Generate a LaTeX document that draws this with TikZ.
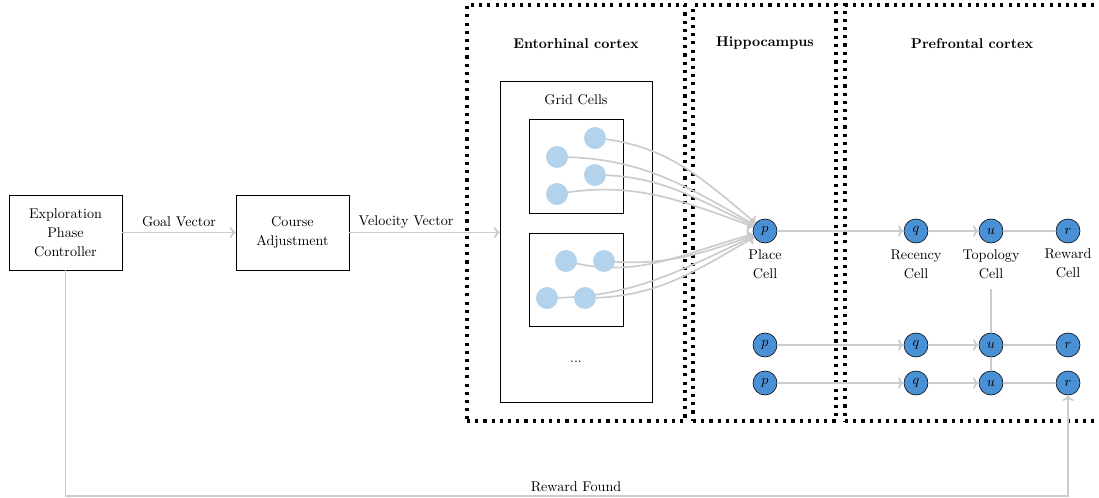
\documentclass[tikz,border=0pt]{standalone}
\usetikzlibrary{arrows.meta,fit,positioning}
\definecolor{linkgray}{RGB}{204,204,204}
\definecolor{cellblue}{RGB}{74,144,212}
\definecolor{gridblue}{RGB}{179,210,235}
\begin{document}
\begin{tikzpicture}[x=0.707pt,y=-0.707pt,
  every node/.style={font=\fontsize{10}{13.5}\selectfont},
  block/.style={draw, align=center, inner sep=0, minimum width=80pt, minimum height=53pt},
  region/.style={draw, line width=2.2pt, dash pattern=on 2.2pt off 3.6pt, inner sep=0},
  frame/.style={draw, inner sep=0},
  title/.style={font=\fontsize{10}{13.5}\selectfont\bfseries},
  gridcell/.style={circle, fill=gridblue, inner sep=0, minimum size=15.5pt},
  cell/.style={circle, draw, fill=cellblue, inner sep=0, minimum size=17pt},
  link/.style={draw=linkgray, line width=1.2pt},
  flow/.style={link, -{To[length=4pt,width=8pt]}},
  caption/.style={align=center, inner sep=1pt}
]
\clip (0,0) rectangle (1099,498);
\useasboundingbox (0,0) rectangle (1099,498);

% brain regions
\node[region, fit={(467,5) (685,421)}] (ec) {};
\node[region, fit={(693,5) (836,421)}] (hc) {};
\node[region, fit={(845,5) (1110,421)}] (pfc) {};
\node[title] (ectitle) at (576,44) {Entorhinal cortex};
\node[title] (hctitle) at (765,43) {Hippocampus};
\node[title] (pfctitle) at (972,44) {Prefrontal cortex};

% control blocks
\node[block] (ctrl) at (65.5,232.5) {Exploration\\Phase\\Controller};
\node[block] (course) at (292.5,232.5) {Course\\Adjustment};

% grid cell modules
\node[frame, fit={(500,81) (652,402)}] (grid) {};
\node (gridlabel) at (576,100) {Grid Cells};
\node[frame, fit={(529,119) (623,213)}] (modA) {};
\node[frame, fit={(529,233) (623,326)}] (modB) {};
\node (more) at (576,362) {...};

% place / recency / topology / reward cells
\foreach \row/\y in {1/231,2/345,3/383}{
  \node[cell] (p\row) at (765,\y) {$p$};
  \node[cell] (q\row) at (916,\y) {$q$};
  \node[cell] (u\row) at (991,\y) {$u$};
  \node[cell] (r\row) at (1068,\y) {$r$};
}
\node[caption, below=3pt of p1] (plabel) {Place\\Cell};
\node[caption, below=3.5pt of q1] (qlabel) {Recency\\Cell};
\node[caption, below=3.5pt of u1] (ulabel) {Topology\\Cell};
\node[caption, below=2.5pt of r1] (rlabel) {Reward\\Cell};

% grid cell projections onto the place cell
\coordinate (a1) at (595,138);
\coordinate (a2) at (557,157);
\coordinate (a3) at (595,175);
\coordinate (a4) at (557,194);
\coordinate (b1) at (566,261);
\coordinate (b2) at (604,261);
\coordinate (b3) at (547,298);
\coordinate (b4) at (585,298);
\draw[flow] (a1) to[out=-5,in=140] (p1);
\draw[flow] (a2) to[out=0,in=150] (p1);
\draw[flow] (a3) to[out=0,in=155] (p1);
\draw[flow] (a4) to[out=10,in=160] (p1);
\draw[flow] (b1) to[out=-15,in=195] (p1);
\draw[flow] (b2) to[out=-5,in=200] (p1);
\draw[flow] (b3) to[out=0,in=205] (p1);
\draw[flow] (b4) to[out=0,in=210] (p1);
\foreach \c in {a1,a2,a3,a4,b1,b2,b3,b4}
  \node[gridcell] (g\c) at (\c) {};

% main signal path
\draw[flow] (ctrl) -- (course);
\draw[flow] (course.east) -- (course.east -| grid.west);
\node (goallabel) at (179,222) {Goal Vector};
\node (velolabel) at (406,222) {Velocity Vector};

\foreach \row in {1,2,3}{
  \draw[flow] (p\row) -- (q\row);
  \draw[flow] (q\row) -- (u\row);
  \draw[link] (u\row) -- (r\row);
}
\coordinate (topo) at (991,289);
\draw[link] (topo) -- (u2);
\draw[link] (u2) -- (u3);

% reward feedback
\coordinate (bend) at (1068,496);
\draw[flow] (ctrl.south) |- (bend) -- (r3);
\node (rewardlabel) at (576,487) {Reward Found};
\end{tikzpicture}
\end{document}
